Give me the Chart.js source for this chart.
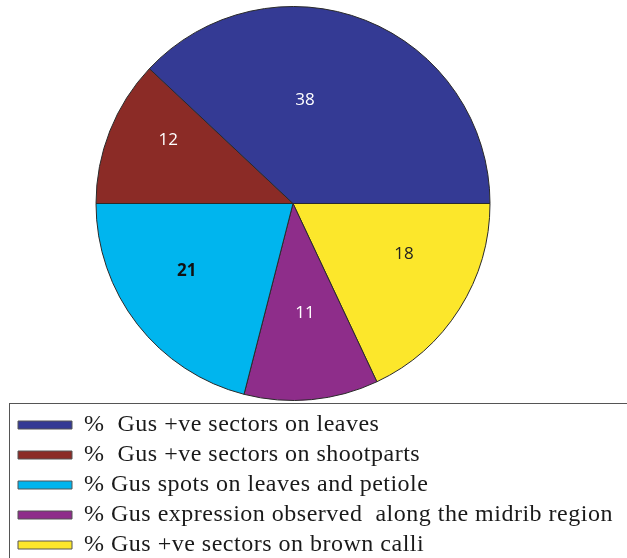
<!DOCTYPE html>
<html>
<head>
<meta charset="utf-8">
<script src="https://cdn.jsdelivr.net/npm/chart.js@4/dist/chart.umd.min.js"></script>
<style>
  html, body { margin: 0; padding: 0; background: #fff; overflow: hidden; }
  #wrap { width: 627px; height: 567px; position: relative; }
</style>
</head>
<body>
<div id="wrap"><canvas id="pie"></canvas></div>
<script>
  // legend order (top to bottom)
  const categories = [
    "%  Gus +ve sectors on leaves",
    "%  Gus +ve sectors on shootparts",
    "% Gus spots on leaves and petiole",
    "% Gus expression observed  along the midrib region",
    "% Gus +ve sectors on brown calli"
  ];
  const values = [38, 12, 21, 11, 18];
  const colors = ["#343a94", "#8b2b26", "#00b5ee", "#8e2d8a", "#fce72b"];

  // label look per slice: [fraction along arc, fraction of radius]
  const labelPlace = [[0.39, 0.53], [0.62, 0.71], [0.57, 0.64], [0.48, 0.56], [0.38, 0.62]];
  const labelColor = ["#ffffff", "#ffffff", "#111111", "#ffffff", "#222222"];
  const labelBold = [false, false, true, false, false];

  // slices go anticlockwise in the picture, so feed them reversed and reverse the legend back
  const rev = (a) => a.slice().reverse();

  const spacing = {
    id: "spacing",
    beforeUpdate(chart) { chart.ctx.letterSpacing = "0.5px"; },
    beforeDraw(chart) { chart.ctx.letterSpacing = "0.5px"; }
  };

  // empty box on the right so the pie sits left of centre while the legend keeps full width
  const rightGap = {
    id: "rightGap",
    beforeInit(chart) {
      Chart.layouts.addBox(chart, {
        position: "right",
        fullSize: false,
        weight: 0,
        options: {},
        isHorizontal() { return false; },
        update(maxWidth, maxHeight) { this.width = 53; this.height = maxHeight; },
        draw() {}
      });
    }
  };

  const sliceLabels = {
    id: "sliceLabels",
    afterDatasetsDraw(chart) {
      const ctx = chart.ctx;
      const arcs = chart.getDatasetMeta(0).data;
      const n = values.length;
      arcs.forEach((arc, i) => {
        const k = n - 1 - i;
        const p = labelPlace[k];
        const a = arc.startAngle + (arc.endAngle - arc.startAngle) * p[0];
        const r = arc.outerRadius * p[1];
        ctx.save();
        ctx.letterSpacing = "0px";
        ctx.fillStyle = labelColor[k];
        ctx.font = (labelBold[k] ? "bold " : "") + "17px 'Open Sans', sans-serif";
        ctx.textAlign = "center";
        ctx.textBaseline = "middle";
        ctx.fillText(String(values[k]), arc.x + Math.cos(a) * r, arc.y + Math.sin(a) * r);
        ctx.restore();
      });
    }
  };

  const legendFrame = {
    id: "legendFrame",
    afterDraw(chart) {
      const lg = chart.legend;
      const ctx = chart.ctx;
      ctx.save();
      ctx.strokeStyle = "#555555";
      ctx.lineWidth = 1;
      ctx.strokeRect(9.5, Math.round(lg.top) - 3.5, chart.width + 20, lg.height + 40);
      ctx.restore();
    }
  };

  new Chart(document.getElementById("pie"), {
    type: "pie",
    data: {
      labels: rev(categories),
      datasets: [{
        data: rev(values),
        backgroundColor: rev(colors),
        borderColor: "#2a2a2a",
        borderWidth: 1,
        radius: 197
      }]
    },
    options: {
      responsive: true,
      maintainAspectRatio: false,
      animation: false,
      rotation: 90,
      layout: { padding: { top: 0, right: 0, left: 12, bottom: 0 } },
      plugins: {
        tooltip: { enabled: false },
        legend: {
          position: "bottom",
          align: "start",
          reverse: true,
          labels: {
            boxWidth: 54,
            boxHeight: 8,
            padding: 6,
            color: "#1a1a1a",
            font: { family: "'Liberation Serif', 'Times New Roman', serif", size: 24 },
            generateLabels(chart) {
              const base = Chart.overrides.pie.plugins.legend.labels.generateLabels(chart);
              return base.map((it) => ({ ...it, strokeStyle: "#555555", lineWidth: 1 }));
            }
          }
        }
      }
    },
    plugins: [spacing, rightGap, sliceLabels, legendFrame]
  });
</script>
</body>
</html>
